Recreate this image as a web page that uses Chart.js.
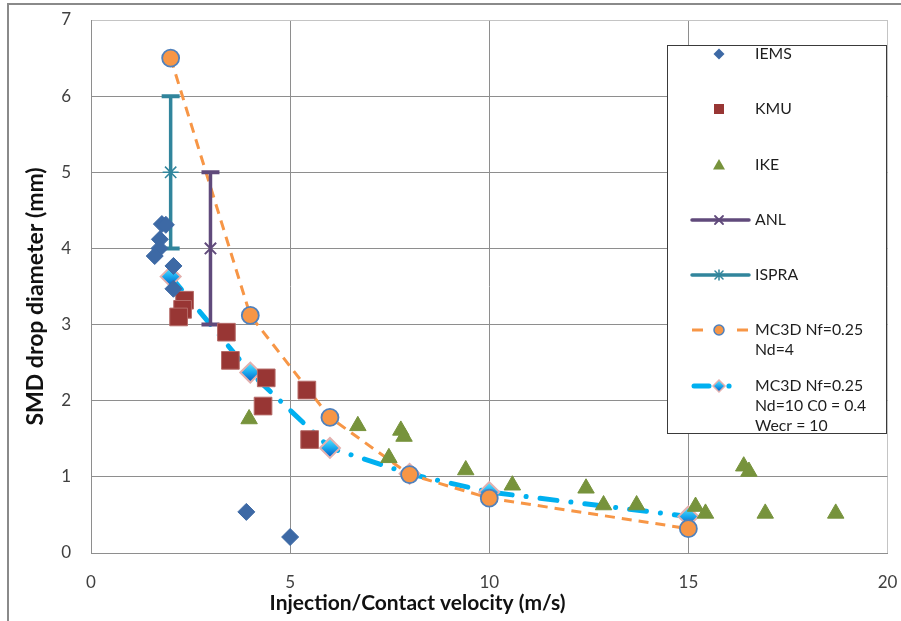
<!DOCTYPE html>
<html>
<head>
<meta charset="utf-8">
<script src="https://cdn.jsdelivr.net/npm/chart.js@4/dist/chart.umd.min.js"></script>
<style>
  html, body { margin: 0; padding: 0; background: #ffffff; }
  canvas { display: block; }
</style>
</head>
<body>
<canvas id="chart" width="901" height="621"></canvas>
<script>
// ---- data ----
const xTicks = [0, 5, 10, 15, 20];
const yTicks = [0, 1, 2, 3, 4, 5, 6, 7];

const iemsX = [1.78, 1.88, 1.73, 1.72, 1.60, 2.07, 2.07, 3.90, 5.00];
const iemsY = [4.32, 4.31, 4.12, 4.00, 3.90, 3.77, 3.47, 0.54, 0.21];

const kmuX = [2.35, 2.30, 2.20, 3.40, 3.50, 4.40, 4.32, 5.42, 5.49];
const kmuY = [3.32, 3.20, 3.10, 2.90, 2.53, 2.30, 1.93, 2.14, 1.49];

const ikeX = [3.97, 6.70, 7.78, 7.86, 7.48, 9.41, 10.58, 12.43, 12.87, 13.70, 15.18, 15.43, 16.39, 16.52, 16.93, 18.70];
const ikeY = [1.76, 1.67, 1.61, 1.53, 1.25, 1.09, 0.89, 0.85, 0.63, 0.63, 0.61, 0.52, 1.14, 1.07, 0.52, 0.52];

// error bars: low, mid, high
const anlX = [3, 3, 3];
const anlY = [3, 4, 5];
const ispraX = [2, 2, 2];
const ispraY = [4, 5, 6];

const mc3dX = [2, 4, 6, 8, 10, 15];
const mc3dNd4Y = [6.50, 3.12, 1.78, 1.03, 0.72, 0.32];
const mc3dNd10Y = [3.63, 2.37, 1.38, 1.04, 0.80, 0.48];

const seriesLabels = [
  ['IEMS'],
  ['KMU'],
  ['IKE'],
  ['ANL'],
  ['ISPRA'],
  ['MC3D Nf=0.25', 'Nd=4'],
  ['MC3D Nf=0.25', 'Nd=10 C0 = 0.4', 'Wecr = 10']
];
const xTitle = 'Injection/Contact velocity (m/s)';
const yTitle = 'SMD drop diameter (mm)';

// ---- styling ----
const FONT = 'Lato, "Open Sans", sans-serif';
const C = {
  iems: '#3D69A5',
  kmu: '#983634',
  kmuEdge: '#B56A67',
  ike: '#77933C',
  anl: '#604A7B',
  ispra: '#31859C',
  orange: '#F79646',
  orangeEdge: '#4F81BD',
  cyan: '#00B0F0',
  pinkEdge: '#E3B0AE',
  grid: '#8E8E8E',
  gridLight: '#C4C4C4'
};

const pts = (xs, ys) => xs.map((x, i) => ({ x: x, y: ys[i] }));

function diamondFill(ctx, x, y, r) {
  const g = ctx.createLinearGradient(x, y - r, x, y + r);
  g.addColorStop(0, '#5CE8FF');
  g.addColorStop(0.5, '#1AA8EE');
  g.addColorStop(1, '#0058C0');
  return g;
}

const datasets = [
  {
    label: seriesLabels[0].join(' '),
    data: pts(iemsX, iemsY),
    pointStyle: 'rectRot', pointRadius: 8.5,
    backgroundColor: C.iems, borderColor: C.iems, borderWidth: 1
  },
  {
    label: seriesLabels[1].join(' '),
    data: pts(kmuX, kmuY),
    pointStyle: 'rect', pointRadius: 12.5,
    backgroundColor: C.kmu, borderColor: C.kmuEdge, borderWidth: 1
  },
  {
    label: seriesLabels[2].join(' '),
    data: pts(ikeX, ikeY),
    pointStyle: 'triangle', pointRadius: 9.5,
    backgroundColor: C.ike, borderColor: C.ike, borderWidth: 1
  },
  {
    label: seriesLabels[3].join(' '),
    data: pts(anlX, anlY),
    showLine: true, borderColor: C.anl, borderWidth: 3.5,
    pointStyle: ['line', 'crossRot', 'line'],
    pointRadius: [9, 8, 9],
    pointBorderWidth: [4, 2, 4],
    pointBorderColor: C.anl, pointBackgroundColor: C.anl
  },
  {
    label: seriesLabels[4].join(' '),
    data: pts(ispraX, ispraY),
    showLine: true, borderColor: C.ispra, borderWidth: 3.5,
    pointStyle: ['line', 'star', 'line'],
    pointRadius: [9, 8, 9],
    pointBorderWidth: [4, 1.5, 4],
    pointBorderColor: C.ispra, pointBackgroundColor: C.ispra
  },
  {
    label: seriesLabels[5].join(' '),
    data: pts(mc3dX, mc3dNd4Y),
    showLine: true, borderColor: C.orange, borderWidth: 3,
    borderDash: [10, 7],
    pointStyle: 'circle', pointRadius: 8.5,
    pointBackgroundColor: C.orange, pointBorderColor: C.orangeEdge, pointBorderWidth: 1.8
  },
  {
    label: seriesLabels[6].join(' '),
    data: pts(mc3dX, mc3dNd10Y),
    showLine: true, borderColor: C.cyan, borderWidth: 5,
    borderDash: [17, 14, 0.1, 14], borderCapStyle: 'round',
    pointStyle: 'rectRot', pointRadius: 10,
    pointBorderColor: C.pinkEdge, pointBorderWidth: 2,
    pointBackgroundColor: (ctx) => {
      const ch = ctx.chart;
      if (!ctx.raw || !ch.scales || !ch.scales.x || !ch.scales.y) return '#1AA8EE';
      const px = ch.scales.x.getPixelForValue(ctx.raw.x);
      const py = ch.scales.y.getPixelForValue(ctx.raw.y);
      if (!Number.isFinite(px) || !Number.isFinite(py)) return '#1AA8EE';
      return diamondFill(ch.ctx, px, py, 10);
    }
  }
];

// white page with the chart frame
const framePlugin = {
  id: 'frame',
  beforeDraw(chart) {
    const ctx = chart.ctx;
    ctx.save();
    ctx.fillStyle = '#ffffff';
    ctx.fillRect(0, 0, chart.width, chart.height);
    ctx.strokeStyle = '#8A8A8A';
    ctx.lineWidth = 2;
    ctx.strokeRect(8, 4, chart.width + 20, chart.height + 20);
    ctx.restore();
  }
};

// axis titles
const titlesPlugin = {
  id: 'axisTitles',
  afterDraw(chart) {
    const ctx = chart.ctx, a = chart.chartArea;
    ctx.save();
    ctx.fillStyle = '#111111';
    ctx.textAlign = 'center';
    ctx.textBaseline = 'middle';
    ctx.font = 'bold 21px ' + FONT;
    ctx.fillText(xTitle, a.left + a.width * 0.41, 603);
    ctx.font = 'bold 23px ' + FONT;
    ctx.translate(36, (a.top + a.bottom) / 2 + 10);
    ctx.rotate(-Math.PI / 2);
    ctx.fillText(yTitle, 0, 0);
    ctx.restore();
  }
};

// boxed legend inside the plot
const legendPlugin = {
  id: 'boxLegend',
  afterDatasetsDraw(chart) {
    const ctx = chart.ctx;
    const L = 667, T = 45, R = 886, B = 433;
    ctx.save();
    ctx.fillStyle = '#ffffff';
    ctx.fillRect(L, T, R - L, B - T);
    ctx.strokeStyle = '#3A3A3A';
    ctx.lineWidth = 1;
    ctx.strokeRect(L + 0.5, T + 0.5, R - L, B - T);

    const mx = L + 52, x0 = L + 25, x1 = L + 82, tx = L + 88;
    const rows = [T + 9, T + 64, T + 120, T + 175, T + 230, T + 285, T + 341];
    const lineH = 20;

    // IEMS
    let y = rows[0];
    ctx.fillStyle = C.iems;
    ctx.beginPath();
    ctx.moveTo(mx - 5.5, y); ctx.lineTo(mx, y - 5.5); ctx.lineTo(mx + 5.5, y); ctx.lineTo(mx, y + 5.5);
    ctx.closePath(); ctx.fill();

    // KMU
    y = rows[1];
    ctx.fillStyle = C.kmu;
    ctx.fillRect(mx - 5, y - 5, 10, 10);

    // IKE
    y = rows[2];
    ctx.fillStyle = C.ike;
    ctx.beginPath();
    ctx.moveTo(mx, y - 6); ctx.lineTo(mx + 6, y + 4.5); ctx.lineTo(mx - 6, y + 4.5);
    ctx.closePath(); ctx.fill();

    // ANL
    y = rows[3];
    ctx.strokeStyle = C.anl; ctx.lineWidth = 3.5; ctx.lineCap = 'round';
    ctx.beginPath(); ctx.moveTo(x0, y); ctx.lineTo(x1, y); ctx.stroke();
    ctx.lineWidth = 1.8;
    ctx.beginPath();
    ctx.moveTo(mx - 4, y - 4); ctx.lineTo(mx + 4, y + 4);
    ctx.moveTo(mx + 4, y - 4); ctx.lineTo(mx - 4, y + 4);
    ctx.stroke();

    // ISPRA
    y = rows[4];
    ctx.strokeStyle = C.ispra; ctx.lineWidth = 3.5;
    ctx.beginPath(); ctx.moveTo(x0, y); ctx.lineTo(x1, y); ctx.stroke();
    ctx.lineWidth = 1.5;
    ctx.beginPath();
    ctx.moveTo(mx - 4, y - 4); ctx.lineTo(mx + 4, y + 4);
    ctx.moveTo(mx + 4, y - 4); ctx.lineTo(mx - 4, y + 4);
    ctx.moveTo(mx, y - 5); ctx.lineTo(mx, y + 5);
    ctx.stroke();

    // MC3D Nd=4
    y = rows[5];
    ctx.strokeStyle = C.orange; ctx.lineWidth = 3; ctx.lineCap = 'butt';
    ctx.beginPath();
    ctx.moveTo(x0, y); ctx.lineTo(x0 + 11, y);
    ctx.moveTo(x1 - 12, y); ctx.lineTo(x1 - 1, y);
    ctx.stroke();
    ctx.fillStyle = C.orange; ctx.strokeStyle = C.orangeEdge; ctx.lineWidth = 1.5;
    ctx.beginPath(); ctx.arc(mx, y, 5, 0, Math.PI * 2); ctx.fill(); ctx.stroke();

    // MC3D Nd=10
    y = rows[6];
    ctx.strokeStyle = C.cyan; ctx.lineWidth = 5; ctx.lineCap = 'round';
    ctx.beginPath(); ctx.moveTo(x0 + 2, y); ctx.lineTo(x0 + 17, y); ctx.stroke();
    ctx.fillStyle = C.cyan;
    ctx.beginPath(); ctx.arc(mx + 10, y, 2.6, 0, Math.PI * 2); ctx.fill();
    ctx.fillStyle = diamondFill(ctx, mx, y, 6);
    ctx.strokeStyle = C.pinkEdge; ctx.lineWidth = 1.5;
    ctx.beginPath();
    ctx.moveTo(mx - 6, y); ctx.lineTo(mx, y - 6); ctx.lineTo(mx + 6, y); ctx.lineTo(mx, y + 6);
    ctx.closePath(); ctx.fill(); ctx.stroke();

    // labels
    ctx.fillStyle = '#1E1E1E';
    ctx.font = '15.8px ' + FONT;
    ctx.textAlign = 'left';
    ctx.textBaseline = 'middle';
    seriesLabels.forEach((lines, i) => {
      lines.forEach((s, j) => ctx.fillText(s, tx, rows[i] + j * lineH));
    });
    ctx.restore();
  }
};

const gridColor = (edgeValue) => (c) => (c.tick && c.tick.value === edgeValue ? C.gridLight : C.grid);
const noScalePadding = (s) => { s.paddingLeft = 0; s.paddingRight = 0; s.paddingTop = 0; s.paddingBottom = 0; };

new Chart(document.getElementById('chart'), {
  type: 'scatter',
  data: { datasets: datasets },
  options: {
    responsive: false,
    animation: false,
    devicePixelRatio: 1,
    layout: { padding: { left: 8, right: 12, top: 20, bottom: 0 } },
    plugins: { legend: { display: false }, tooltip: { enabled: false } },
    elements: { line: { tension: 0, fill: false } },
    scales: {
      x: {
        type: 'linear', min: xTicks[0], max: xTicks[xTicks.length - 1],
        afterBuildTicks: (s) => { s.ticks = xTicks.map(v => ({ value: v })); },
        afterFit: (s) => { s.height = 68; noScalePadding(s); },
        grid: { color: gridColor(20), lineWidth: 1, drawTicks: false },
        border: { color: C.grid, width: 1 },
        ticks: { padding: 19, color: '#404040', font: { family: FONT, size: 17 } }
      },
      y: {
        type: 'linear', min: yTicks[0], max: yTicks[yTicks.length - 1],
        afterBuildTicks: (s) => { s.ticks = yTicks.map(v => ({ value: v })); },
        afterFit: (s) => { s.width = 83; noScalePadding(s); },
        grid: { color: gridColor(7), lineWidth: 1, drawTicks: false },
        border: { color: C.grid, width: 1 },
        ticks: { padding: 20, color: '#404040', font: { family: FONT, size: 17 } }
      }
    }
  },
  plugins: [framePlugin, legendPlugin, titlesPlugin]
});
</script>
</body>
</html>
